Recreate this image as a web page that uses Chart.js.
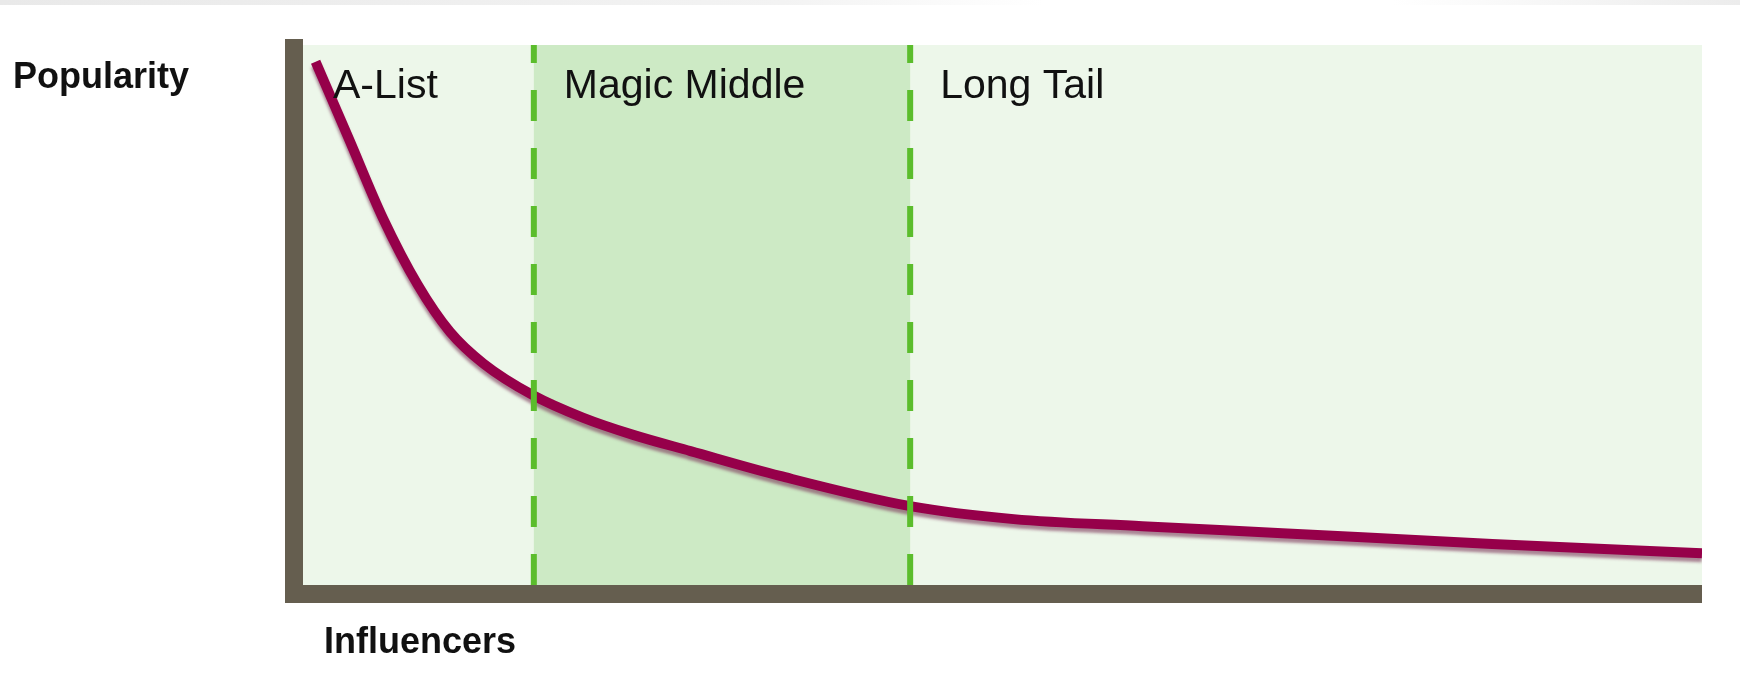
<!DOCTYPE html>
<html>
<head>
<meta charset="utf-8">
<script src="https://cdn.jsdelivr.net/npm/chart.js@4.4.1/dist/chart.umd.min.js"></script>
<style>
  body { margin: 0; background: #fff; }
  #wrap {
    width: 1740px; height: 686px; position: relative;
    background: linear-gradient(to right, #e9e9e9 0%, #f3f3f3 45%, #fff 60%, #fff 80%, #ececec 100%) top / 100% 5px no-repeat, #fff;
  }
</style>
</head>
<body>
<div id="wrap"><canvas id="longtail"></canvas></div>
<script>
// curve: influencers (x, 0..100) vs popularity (y, 0..100)
const influencerX = [0.9, 3.3, 5.7, 8.2, 10.5, 12.9, 16.4, 20.0, 23.6, 27.7, 34.1, 43.4, 50.8, 60.0, 70.0, 85.0, 100];
const popularityY = [96.9, 82.5, 68.0, 55.6, 46.9, 41.0, 35.2, 31.0, 27.8, 24.8, 20.2, 14.6, 12.2, 10.9, 9.6, 7.6, 5.9];

// segments of the curve
const segmentLabels = ['A-List', 'Magic Middle', 'Long Tail'];
const segmentStarts = [0, 16.5, 43.4];
const middleBand = [16.5, 43.4];

const axisTitleY = 'Popularity';
const axisTitleX = 'Influencers';

const lightGreen = '#edf7ea';
const midGreen = '#cdeac5';
const dashGreen = '#5bbd2c';
const axisBrown = '#655e4f';
const curveRed = '#96004a';

const points = influencerX.map((x, i) => ({ x: x, y: popularityY[i] }));

var dividers = segmentStarts.slice(1).map(function (s) {
    return {
        data: [{ x: s, y: 0 }, { x: s, y: 100 }],
        borderColor: dashGreen,
        borderWidth: 6,
        borderDash: [31, 27],
        pointRadius: 0,
        order: 1
    };
});

const backdrop = {
    id: 'backdrop',
    beforeDatasetsDraw(chart) {
        const { ctx, chartArea: a, scales: { x } } = chart;
        ctx.save();
        ctx.fillStyle = lightGreen;
        ctx.fillRect(a.left, a.top, a.right - a.left, a.bottom - a.top);
        const x0 = x.getPixelForValue(middleBand[0]);
        const x1 = x.getPixelForValue(middleBand[1]);
        ctx.fillStyle = midGreen;
        ctx.fillRect(x0, a.top, x1 - x0, a.bottom - a.top);
        ctx.restore();
    },
    beforeDatasetDraw(chart, args) {
        if (args.index !== 0) return;
        const ctx = chart.ctx;
        ctx.save();
        ctx.shadowColor = 'rgba(125, 55, 90, 0.6)';
        ctx.shadowOffsetY = 4;
        ctx.shadowBlur = 3;
    },
    afterDatasetDraw(chart, args) {
        if (args.index !== 0) return;
        chart.ctx.restore();
    },
    afterDatasetsDraw(chart) {
        const { ctx, chartArea: a, scales: { x } } = chart;
        ctx.save();
        // axis bars
        ctx.fillStyle = axisBrown;
        ctx.fillRect(a.left - 18, a.top - 6, 18, a.bottom - a.top + 24);
        ctx.fillRect(a.left - 18, a.bottom, a.right - a.left + 18, 18);

        ctx.fillStyle = '#111';
        ctx.textBaseline = 'alphabetic';
        ctx.font = '41px "Liberation Sans", Arial, sans-serif';
        segmentLabels.forEach(function (lab, i) {
            ctx.fillText(lab, x.getPixelForValue(segmentStarts[i]) + 30, a.top + 53);
        });

        ctx.font = 'bold 36px "Liberation Sans", Arial, sans-serif';
        ctx.fillText(axisTitleY, 13, 88);
        ctx.fillText(axisTitleX, 324, 653);
        ctx.restore();
    }
};

const ctx = document.getElementById('longtail');
const chart = new Chart(ctx, {
    type: 'line',
    data: {
        datasets: [{
            data: points,
            borderColor: curveRed,
            borderWidth: 10,
            pointRadius: 0,
            cubicInterpolationMode: 'monotone',
            order: 2
        }].concat(dividers)
    },
    options: {
        responsive: true,
        maintainAspectRatio: false,
        animation: false,
        layout: { padding: { left: 303, right: 38, top: 45, bottom: 101 } },
        plugins: { legend: { display: false }, tooltip: { enabled: false } },
        scales: {
            x: { type: 'linear', min: 0, max: 100, display: false },
            y: { type: 'linear', min: 0, max: 100, display: false }
        }
    },
    plugins: [backdrop]
});
</script>
</body>
</html>
